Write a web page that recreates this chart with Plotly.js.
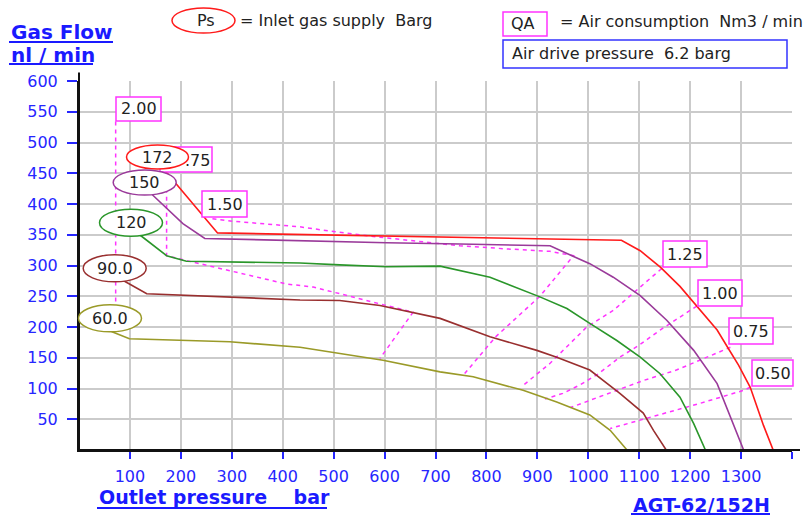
<!DOCTYPE html>
<html><head><meta charset="utf-8">
<script src="https://cdn.plot.ly/plotly-3.0.1.min.js"></script>
<style>html,body{margin:0;padding:0;background:#fff}#chart{width:811px;height:515px}</style>
</head><body><div id="chart"></div>
<script>
// ---- data ----
const xTicks = [100,200,300,400,500,600,700,800,900,1000,1100,1200,1300,1400];
const yTicks = [50,100,150,200,250,300,350,400,450,500,550,600];

const psLabels = ['172','150','120','90.0','60.0'];
const psColors = ['#ff1a1a','#9a3a9a','#2a962a','#992f2f','#9a9a28'];

const x172 = [165,272,394,530,689,840,990,1065,1102,1142,1180,1213,1253,1275,1295,1318,1344,1363];
const y172 = [458,353,351,349,346,345,342,341,324,297,266,234,195,165,138,102,40,0];
const x150 = [144,204,247,434,508,604,748,899,925,970,1003,1049,1102,1154,1207,1253,1285,1305];
const y150 = [415,368,344,340,339,337,335,332,332,315,303,281,251,211,162,108,43,0];
const x120 = [119,172,211,434,512,604,709,807,905,958,1003,1056,1102,1141,1180,1207,1230];
const y120 = [350,316,307,304,301,298,299,281,249,230,206,178,151,124,86,43,0];
const x90  = [86,133,434,512,591,709,807,899,938,1003,1062,1108,1128,1153];
const y90  = [276,254,244,243,235,214,184,162,151,130,92,60,32,0];
const x60  = [2,66,99,198,296,434,499,597,709,774,872,938,1003,1043,1076];
const y60  = [219,192,181,178,176,167,159,146,127,119,97,78,57,32,0];

const qaLabels = ['2.00','1.75','1.50','1.25','1.00','0.75','0.50'];
const qa200x = [72,72];
const qa200y = [534,195];
const qa175x = [172,172,211,296,407,460,551,656,591];
const qa175y = [451,316,308,292,270,265,246,224,149];
const qa150x = [262,302,433,492,591,709,748,840,925,971,905,818,754];
const qa150y = [376,372,363,356,346,335,332,327,323,316,250,184,121];
const qa125x = [1144,1102,1049,997,958,925,869];
const qa125y = [295,265,227,200,168,141,103];
const qa100x = [1213,1180,1141,1099,1062,1020,984,950,915];
const qa100y = [234,216,195,170,151,124,106,92,83];
const qa075x = [1279,1226,1173,1108,1050,1003,965];
const qa075y = [167,148,130,113,95,80,69];
const qa050x = [1318,1305,1220,1161,1102,1043];
const qa050y = [102,97,76,62,49,35];

// ---- geometry helpers (pixel -> paper) ----
const W=811, H=515, L=79, R=19, T=81, B=65;
const PW=W-L-R, PH=H-T-B;
const X = p => (p-L)/PW;
const Y = p => (H-B-p)/PH;

const FONT = 'DejaVu Sans';
const TXT = '#222222';
const BLUE = '#2626ff';
const TBLUE = '#1a1aff';
const MAG = '#ff33ff';

const curveX = [x172,x150,x120,x90,x60];
const curveY = [y172,y150,y120,y90,y60];
const qaX = [qa200x,qa175x,qa150x,qa125x,qa100x,qa075x,qa050x];
const qaY = [qa200y,qa175y,qa150y,qa125y,qa100y,qa075y,qa050y];

const traces = [];
qaX.forEach((xs,i)=>traces.push({x:xs,y:qaY[i],type:'scatter',mode:'lines',name:'QA '+qaLabels[i],
  line:{color:MAG,width:1.5,dash:'4px,4px'},hoverinfo:'skip'}));
curveX.forEach((xs,i)=>traces.push({x:xs,y:curveY[i],type:'scatter',mode:'lines',name:'Ps '+psLabels[i],
  line:{color:psColors[i],width:1.6},hoverinfo:'skip'}));

const shapes = [];
const annotations = [];
function rectPx(x0,y0,x1,y1,color,w){
  shapes.push({type:'rect',xref:'paper',yref:'paper',x0:X(x0),x1:X(x1),y0:Y(y1),y1:Y(y0),
    line:{color:color,width:w||1.5},fillcolor:'#ffffff',layer:'above'});
}
function ellPx(cx,cy,w,h,color){
  shapes.push({type:'circle',xref:'paper',yref:'paper',x0:X(cx-w/2),x1:X(cx+w/2),y0:Y(cy+h/2),y1:Y(cy-h/2),
    line:{color:color,width:1.5},fillcolor:'#ffffff',layer:'above'});
}
function linePx(x0,y0,x1,y1,color,w){
  shapes.push({type:'line',xref:'paper',yref:'paper',x0:X(x0),x1:X(x1),y0:Y(y0),y1:Y(y1),
    line:{color:color,width:w},layer:'above'});
}
function textPx(t,x,y,opts){
  opts=opts||{};
  annotations.push({text:t,xref:'paper',yref:'paper',x:X(x),y:Y(y),showarrow:false,
    xanchor:opts.xa||'center',yanchor:'middle',
    font:{family:FONT,size:opts.size||16,color:opts.color||TXT,weight:opts.weight||'normal'}});
}

// axis extensions beyond the grid
linePx(L,450,800,450,'#111',2);
linePx(L,450,L,72.5,'#111',2);

// QA boxes (1.75 first so the red ellipse hides its left part)
rectPx(160,147,212,172,MAG);
textPx('.75',197,160);
const boxes = [
  ['2.00',116,97,161,121],
  ['1.50',202,191,247,217],
  ['1.25',663,241,707,267],
  ['1.00',698,280,742,306],
  ['0.75',729,318,773,344],
  ['0.50',752,360,793,386]
];
boxes.forEach(b=>{rectPx(b[1],b[2],b[3],b[4],MAG); textPx(b[0],(b[1]+b[3])/2,(b[2]+b[4])/2);});

// Ps ellipses on the curves
const ell = [[157.5,157,62,24],[144.7,182.5,63,25],[131,222.7,63,27],[114.7,268.3,63,27],[110,318.3,63,27]];
ell.forEach((e,i)=>{ellPx(e[0],e[1],e[2],e[3],psColors[i]); textPx(psLabels[i],e[0],e[1]);});

// top legend
ellPx(203.5,20.5,63,25,'#ff1a1a');
textPx('Ps',206,20);
textPx('= Inlet gas supply\u00a0\u00a0Barg',238,20,{xa:'left'});
rectPx(503,12,547,36,MAG);
textPx('QA',523,23);
textPx('=\u00a0Air consumption\u00a0\u00a0Nm3 / min',558,22,{xa:'left'});
rectPx(503,40,787,68,'#3333ff');
textPx('Air drive pressure\u00a0\u00a06.2 barg',510,54,{xa:'left'});

// titles with underlines
textPx('Gas Flow',9,32,{xa:'left',size:20,color:TBLUE,weight:'bold'});
linePx(9,42,113,42,TBLUE,2);
textPx('nl / min',9,55,{xa:'left',size:20,color:TBLUE,weight:'bold'});
linePx(9,64,93,64,TBLUE,2);
textPx('Outlet pressure\u00a0\u00a0\u00a0\u00a0bar',97,497,{xa:'left',size:19,color:TBLUE,weight:'bold'});
linePx(97,508,327,508,TBLUE,2);
textPx('AGT-62/152H',631,505,{xa:'left',size:19,color:TBLUE,weight:'bold'});
linePx(631,514,770,514,TBLUE,2);

const layout = {
  width:W,height:H,autosize:false,
  margin:{l:L,r:R,t:T,b:B,pad:0},
  paper_bgcolor:'#ffffff',plot_bgcolor:'#ffffff',
  showlegend:false,
  xaxis:{range:[0,1400],tickvals:xTicks,ticktext:xTicks.map(String),ticks:'outside',ticklen:7,tickwidth:2,
    tickcolor:BLUE,showline:true,linecolor:'#111',linewidth:2,showgrid:true,gridcolor:'#cbcbcb',gridwidth:2,
    zeroline:false,tickfont:{family:FONT,size:16,color:BLUE},ticklabelstandoff:4,fixedrange:true},
  yaxis:{range:[0,600],tickvals:yTicks,ticktext:yTicks.map(String),ticks:'outside',ticklen:10,tickwidth:2,
    tickcolor:BLUE,showline:true,linecolor:'#111',linewidth:2,showgrid:true,gridcolor:'#cbcbcb',gridwidth:2,
    zeroline:false,tickfont:{family:FONT,size:16,color:BLUE},ticklabelstandoff:6,fixedrange:true},
  shapes:shapes,annotations:annotations
};
Plotly.newPlot('chart',traces,layout,{displayModeBar:false,staticPlot:true});
</script></body></html>
